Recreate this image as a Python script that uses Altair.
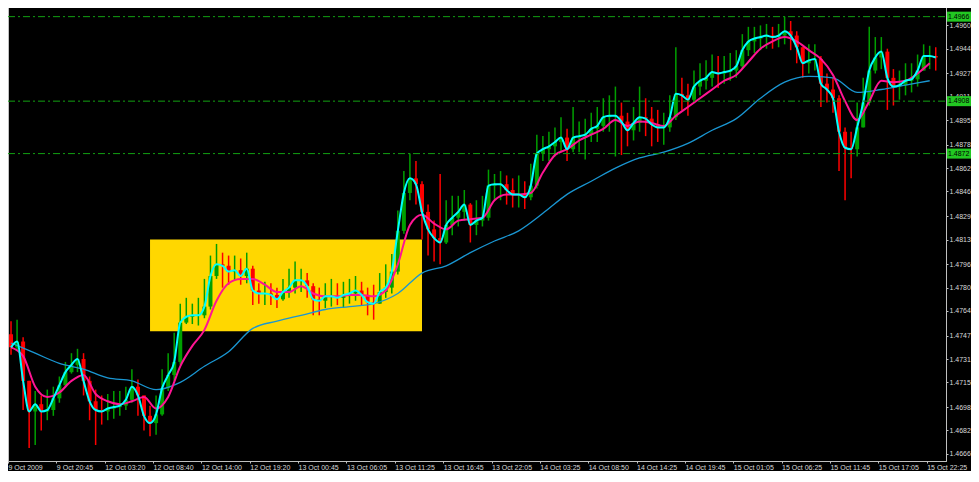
import altair as alt
import pandas as pd

# ---------------- data ----------------
FIRST_OPEN = 1.4748

close = [
    1.4739, 1.4743, 1.4716, 1.4695, 1.4700, 1.4695, 1.4696, 1.4704, 1.4713, 1.4722,
    1.4727, 1.4731, 1.4716, 1.4702, 1.4696, 1.4695, 1.4697, 1.4698, 1.4699, 1.4703,
    1.4712, 1.4706, 1.4692, 1.4687, 1.4693, 1.4711, 1.4720, 1.4729, 1.4756, 1.4760,
    1.4761, 1.4761, 1.4767, 1.4788, 1.4796, 1.4795, 1.4791, 1.4792, 1.4788, 1.4793,
    1.4778, 1.4776, 1.4776, 1.4775, 1.4772, 1.4777, 1.4780, 1.4785, 1.4785, 1.4781,
    1.4772, 1.4771, 1.4774, 1.4774, 1.4773, 1.4775, 1.4776, 1.4778, 1.4775, 1.4770,
    1.4769, 1.4777, 1.4780, 1.4791, 1.4819, 1.4845, 1.4855, 1.4851, 1.4832, 1.4820,
    1.4814, 1.4811, 1.4823, 1.4828, 1.4832, 1.4837, 1.4823, 1.4826, 1.4828, 1.4850,
    1.4851, 1.4851, 1.4847, 1.4844, 1.4844, 1.4842, 1.4850, 1.4872, 1.4875, 1.4877,
    1.4880, 1.4883, 1.4875, 1.4883, 1.4884, 1.4885, 1.4889, 1.4891, 1.4897, 1.4898,
    1.4898, 1.4894, 1.4888, 1.4893, 1.4897, 1.4896, 1.4892, 1.4890, 1.4890, 1.4897,
    1.4913, 1.4912, 1.4909, 1.4918, 1.4922, 1.4924, 1.4928, 1.4927, 1.4928, 1.4929,
    1.4932, 1.4943, 1.4949, 1.4951, 1.4952, 1.4953, 1.4952, 1.4953, 1.4956, 1.4953,
    1.4945, 1.4934, 1.4936, 1.4937, 1.4920, 1.4916, 1.4910, 1.4887, 1.4876, 1.4875,
    1.4890, 1.4907, 1.4929, 1.4938, 1.4942, 1.4924, 1.4918, 1.4919, 1.4922, 1.4923,
    1.4929, 1.4939, 1.4939, 1.4938,
]

high = [
    1.4757, 1.4758, 1.4746, 1.4716, 1.4709, 1.4706, 1.4710, 1.4712, 1.4719, 1.4729,
    1.4735, 1.4738, 1.4735, 1.4719, 1.4710, 1.4706, 1.4707, 1.4709, 1.4709, 1.4712,
    1.4724, 1.4717, 1.4706, 1.4699, 1.4706, 1.4724, 1.4735, 1.4749, 1.4769, 1.4773,
    1.4769, 1.4773, 1.4786, 1.4802, 1.4810, 1.4804, 1.4802, 1.4802, 1.4800, 1.4804,
    1.4795, 1.4783, 1.4784, 1.4783, 1.4780, 1.4786, 1.4793, 1.4798, 1.4793, 1.4790,
    1.4783, 1.4780, 1.4783, 1.4786, 1.4783, 1.4784, 1.4786, 1.4788, 1.4784, 1.4780,
    1.4782, 1.4790, 1.4796, 1.4803, 1.4833, 1.4860, 1.4872, 1.4867, 1.4853, 1.4837,
    1.4826, 1.4858, 1.4840, 1.4843, 1.4843, 1.4847, 1.4838, 1.4840, 1.4843, 1.4861,
    1.4858, 1.4860, 1.4857, 1.4855, 1.4857, 1.4853, 1.4865, 1.4885, 1.4884, 1.4887,
    1.4890, 1.4897, 1.4889, 1.4904, 1.4894, 1.4896, 1.4900, 1.4904, 1.4910, 1.4912,
    1.4918, 1.4907, 1.4900, 1.4904, 1.4918, 1.4910, 1.4904, 1.4902, 1.4900, 1.4912,
    1.4945, 1.4924, 1.4920, 1.4929, 1.4934, 1.4936, 1.4940, 1.4939, 1.4939, 1.4941,
    1.4943, 1.4954, 1.4959, 1.4959, 1.4960, 1.4961, 1.4959, 1.4961, 1.4966, 1.4963,
    1.4956, 1.4945, 1.4947, 1.4947, 1.4939, 1.4927, 1.4924, 1.4912, 1.4890, 1.4887,
    1.4907, 1.4924, 1.4959, 1.4952, 1.4952, 1.4944, 1.4930, 1.4929, 1.4934, 1.4934,
    1.4940, 1.4947, 1.4946, 1.4945,
]

low = [
    1.4734, 1.4737, 1.4696, 1.4670, 1.4672, 1.4682, 1.4689, 1.4692, 1.4701, 1.4712,
    1.4721, 1.4722, 1.4706, 1.4689, 1.4672, 1.4686, 1.4689, 1.4690, 1.4692, 1.4696,
    1.4701, 1.4692, 1.4682, 1.4678, 1.4679, 1.4692, 1.4709, 1.4716, 1.4727, 1.4755,
    1.4755, 1.4754, 1.4759, 1.4765, 1.4786, 1.4780, 1.4782, 1.4785, 1.4782, 1.4783,
    1.4768, 1.4769, 1.4768, 1.4768, 1.4766, 1.4771, 1.4773, 1.4776, 1.4777, 1.4773,
    1.4761, 1.4761, 1.4766, 1.4767, 1.4768, 1.4766, 1.4769, 1.4771, 1.4768, 1.4761,
    1.4758, 1.4769, 1.4773, 1.4776, 1.4789, 1.4817, 1.4840, 1.4837, 1.4813, 1.4802,
    1.4798, 1.4796, 1.4810, 1.4816, 1.4822, 1.4826, 1.4811, 1.4816, 1.4822, 1.4826,
    1.4840, 1.4840, 1.4837, 1.4835, 1.4835, 1.4834, 1.4840, 1.4848, 1.4867, 1.4867,
    1.4870, 1.4873, 1.4867, 1.4873, 1.4873, 1.4868, 1.4880, 1.4880, 1.4887, 1.4887,
    1.4870, 1.4871, 1.4877, 1.4881, 1.4887, 1.4884, 1.4877, 1.4880, 1.4878, 1.4887,
    1.4895, 1.4902, 1.4898, 1.4907, 1.4912, 1.4916, 1.4918, 1.4917, 1.4920, 1.4922,
    1.4924, 1.4930, 1.4939, 1.4941, 1.4943, 1.4944, 1.4944, 1.4945, 1.4947, 1.4943,
    1.4934, 1.4924, 1.4927, 1.4929, 1.4904, 1.4907, 1.4900, 1.4860, 1.4840, 1.4855,
    1.4870, 1.4890, 1.4905, 1.4927, 1.4930, 1.4902, 1.4905, 1.4909, 1.4912, 1.4914,
    1.4918, 1.4929, 1.4930, 1.4929,
]

# magenta moving average, read at every 2nd bar
ma_pink = [
    1.4739, 1.4733, 1.4712, 1.4705, 1.4708, 1.4716, 1.4720, 1.4707, 1.4702, 1.4700,
    1.4702, 1.4705, 1.4697, 1.4705, 1.4726, 1.4740, 1.4751, 1.4771, 1.4783, 1.4786,
    1.4786, 1.4782, 1.4777, 1.4777, 1.4781, 1.4776, 1.4774, 1.4774, 1.4775, 1.4775,
    1.4774, 1.4778, 1.4796, 1.4823, 1.4830, 1.4824, 1.4820, 1.4826, 1.4827, 1.4828,
    1.4840, 1.4844, 1.4844, 1.4845, 1.4859, 1.4871, 1.4875, 1.4881, 1.4885, 1.4889,
    1.4895, 1.4891, 1.4894, 1.4893, 1.4891, 1.4898, 1.4904, 1.4910, 1.4916, 1.4922,
    1.4926, 1.4935, 1.4944, 1.4949, 1.4952, 1.4949, 1.4943, 1.4937, 1.4926, 1.4908,
    1.4895, 1.4908, 1.4922, 1.4921, 1.4922, 1.4927, 1.4934,
]

# slow blue moving average, read at every 4th bar
ma_blue = [
    1.4742, 1.4735, 1.4728, 1.4724, 1.4718, 1.4716, 1.4710, 1.4715, 1.4726, 1.4736,
    1.4752, 1.4757, 1.4761, 1.4765, 1.4767, 1.4769, 1.4776, 1.4790, 1.4795, 1.4804,
    1.4812, 1.4819, 1.4831, 1.4844, 1.4853, 1.4862, 1.4869, 1.4873, 1.4879, 1.4888,
    1.4896, 1.4910, 1.4921, 1.4925, 1.4924, 1.4914, 1.4916, 1.4919, 1.4922,
]

levels = [1.4966, 1.4908, 1.4872]

y_ticks = [1.4666, 1.4682, 1.4698, 1.4715, 1.4731, 1.4747, 1.4764, 1.4780, 1.4796,
           1.4813, 1.4829, 1.4846, 1.4862, 1.4878, 1.4895, 1.4911, 1.4927, 1.4944, 1.4960]

x_labels = ["9 Oct 2009", "9 Oct 20:45", "12 Oct 03:20", "12 Oct 08:40", "12 Oct 14:00",
            "12 Oct 19:20", "13 Oct 00:45", "13 Oct 06:05", "13 Oct 11:25", "13 Oct 16:45",
            "13 Oct 22:05", "14 Oct 03:25", "14 Oct 08:50", "14 Oct 14:25", "14 Oct 19:45",
            "15 Oct 01:05", "15 Oct 06:25", "15 Oct 11:45", "15 Oct 17:05", "15 Oct 22:25"]

box_start = [23.5]
box_end = [68.5]
box_top = [1.4813]
box_bottom = [1.4750]

shift_marker = [123.0]

# ---------------- tables ----------------
BARS_PER_LABEL = 8
n = len(close)
opens = [FIRST_OPEN] + close[:-1]
bars = pd.DataFrame({
    "pos": [i + 0.5 for i in range(n)],
    "open": opens, "high": high, "low": low, "close": close,
    "dir": ["up" if c >= o else "down" for o, c in zip(opens, close)],
})
pink_df = pd.DataFrame({"pos": [2 * k + 0.5 for k in range(len(ma_pink))], "v": ma_pink})
blue_df = pd.DataFrame({"pos": [4 * k + 0.5 for k in range(len(ma_blue))], "v": ma_blue})
lvl_df = pd.DataFrame({"v": levels, "txt": [f"{v:.4f}" for v in levels]})
box_df = pd.DataFrame({"x1": box_start, "x2": box_end, "y1": box_top, "y2": box_bottom})
mark_df = pd.DataFrame({"pos": shift_marker})

FONT = "Liberation Sans"
FS = 7

W, H = 938, 456
XMAX = 155.2
xscale = alt.Scale(domain=[0, XMAX], nice=False, zero=False, padding=0)
yscale = alt.Scale(domain=[1.4661, 1.4974], nice=False, zero=False, padding=0)

label_arr = "[" + ",".join(f"'{s}'" for s in x_labels) + "]"
x_axis = alt.Axis(
    values=[k * BARS_PER_LABEL for k in range(len(x_labels))],
    labelExpr=f"{label_arr}[round(datum.value / {BARS_PER_LABEL})]",
    labelAlign="left", labelBaseline="top", labelFlush=False, labelOverlap=False, grid=False,
    tickSize=2, labelPadding=0, title=None,
)
y_axis = alt.Axis(
    orient="right", values=y_ticks, format=".4f", grid=False,
    tickSize=2, labelPadding=1, title=None, labelOverlap=False, labelFlush=False,
)

color = alt.Color("dir:N", scale=alt.Scale(domain=["up", "down"], range=["#00a000", "#ff0000"]), legend=None)

box = alt.Chart(box_df).mark_rect(color="#ffd700").encode(
    x=alt.X("x1:Q", scale=xscale, axis=x_axis),
    x2="x2:Q",
    y=alt.Y("y1:Q", scale=yscale, axis=y_axis),
    y2="y2:Q",
)

wicks = alt.Chart(bars).mark_rule(strokeWidth=1.5).encode(
    x=alt.X("pos:Q", scale=xscale, axis=x_axis),
    y=alt.Y("low:Q", scale=yscale, axis=y_axis),
    y2="high:Q",
    color=color,
)
bodies = alt.Chart(bars).mark_bar(width=4).encode(
    x=alt.X("pos:Q", scale=xscale, axis=x_axis),
    y=alt.Y("open:Q", scale=yscale, axis=y_axis),
    y2="close:Q",
    color=color,
)

blue_line = alt.Chart(blue_df).mark_line(color="#1a96d2", strokeWidth=1.3, interpolate="monotone").encode(
    x=alt.X("pos:Q", scale=xscale, axis=x_axis),
    y=alt.Y("v:Q", scale=yscale, axis=y_axis),
)
pink_line = alt.Chart(pink_df).mark_line(color="#ff1493", strokeWidth=2, interpolate="monotone").encode(
    x=alt.X("pos:Q", scale=xscale, axis=x_axis),
    y=alt.Y("v:Q", scale=yscale, axis=y_axis),
)
cyan_line = alt.Chart(bars).mark_line(color="#00ffff", strokeWidth=2, interpolate="monotone").encode(
    x=alt.X("pos:Q", scale=xscale, axis=x_axis),
    y=alt.Y("close:Q", scale=yscale, axis=y_axis),
)

level_rules = alt.Chart(lvl_df).mark_rule(color="#12a012", strokeWidth=1, strokeDash=[7, 3, 2, 3]).encode(
    x=alt.value(0), x2=alt.value(W),
    y=alt.Y("v:Q", scale=yscale, axis=y_axis),
)
level_boxes = alt.Chart(lvl_df).mark_rule(color="#22c822", strokeWidth=10).encode(
    x=alt.value(W + 1), x2=alt.value(W + 25),
    y=alt.Y("v:Q", scale=yscale, axis=y_axis),
)
level_text = alt.Chart(lvl_df).mark_text(
    align="left", baseline="middle", color="#000000", font=FONT, fontSize=FS
).encode(
    x=alt.value(W + 2),
    y=alt.Y("v:Q", scale=yscale, axis=y_axis),
    text="txt:N",
)
marker = alt.Chart(mark_df).mark_point(shape="triangle-down", filled=True, size=40, color="#a0a0a0", opacity=1).encode(
    x=alt.X("pos:Q", scale=xscale, axis=x_axis),
    y=alt.value(1),
)

chart = alt.layer(
    box, wicks, bodies, blue_line, pink_line, cyan_line, level_rules, level_boxes, level_text, marker
).properties(
    width=W, height=H,
    autosize=alt.AutoSizeParams(type="none"),
    padding={"left": 0, "top": -3, "right": 25, "bottom": 10},
    background="#000000",
).configure_view(
    stroke="#c0c0c0", strokeWidth=1
).configure_axis(
    domainColor="#c0c0c0", tickColor="#c0c0c0", labelColor="#d8d8d8",
    labelFont=FONT, labelFontSize=FS, domainWidth=1,
)

chart.save("out.html", embed_options={"renderer": "svg", "actions": False})
